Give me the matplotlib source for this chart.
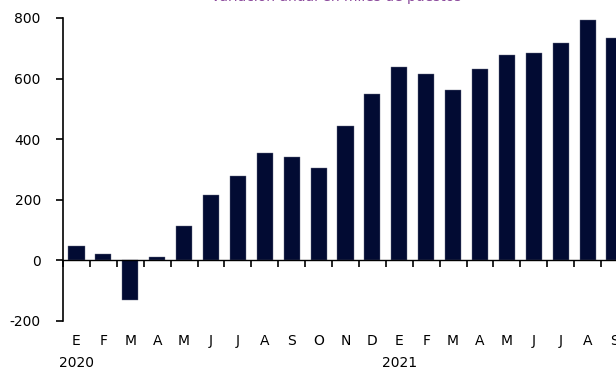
import matplotlib
matplotlib.use("Agg")
import matplotlib.pyplot as plt
import numpy as np

months = ["E", "F", "M", "A", "M", "J", "J", "A", "S", "O", "N", "D",
          "E", "F", "M", "A", "M", "J", "J", "A", "S"]
values = [47, 22, -130, 10, 113, 216, 279, 355, 342, 305, 445, 548,
          638, 614, 561, 631, 677, 684, 718, 793, 733]
years = ["2020", "2021"]
year_start_idx = [0, 12]
yticks = [-200, 0, 200, 400, 600, 800]
title = "Variación anual en miles de puestos"

bar_color = "#020B33"

fig = plt.figure(figsize=(6.16, 3.68), dpi=100)
W, H = 616, 368
ax = fig.add_axes([63 / W, 47 / H, 565 / W, 303 / H])

x = np.arange(len(values))
ax.bar(x, values, width=0.6, color=bar_color, edgecolor="#6a6f85", linewidth=0.3, zorder=2)

ax.set_xlim(-0.5, len(values) - 0.5)
ax.set_ylim(-200, 800)
ax.set_yticks(yticks)
ax.set_yticklabels([str(v) for v in yticks], fontsize=10, family="DejaVu Sans")
ax.tick_params(axis="y", direction="out", length=5, width=1.2, pad=11, color="black")

# x axis at zero with boundary ticks
ax.spines["bottom"].set_position(("data", 0))
ax.spines["bottom"].set_linewidth(1.0)
ax.spines["left"].set_linewidth(1.2)
ax.spines["top"].set_visible(False)
ax.spines["right"].set_visible(False)
ax.set_xticks(np.arange(len(values) + 1) - 0.5)
ax.set_xticklabels([])
ax.tick_params(axis="x", direction="out", length=5, width=1.2, color="black")

trans = ax.get_xaxis_transform()
for i, m in enumerate(months):
    ax.text(i, -0.065, m, transform=trans, ha="center", va="center",
            fontsize=10, family="DejaVu Sans", clip_on=False)
for yi, yl in zip(year_start_idx, years):
    ax.text(yi, -0.138, yl, transform=trans, ha="center", va="center",
            fontsize=10, family="DejaVu Sans", clip_on=False)

fig.text(0.545, 1 - 0.8 / H, title, ha="center", va="baseline",
         fontsize=10, color="#8B4A9C", family="DejaVu Sans")

fig.savefig("out.png", dpi=100)
